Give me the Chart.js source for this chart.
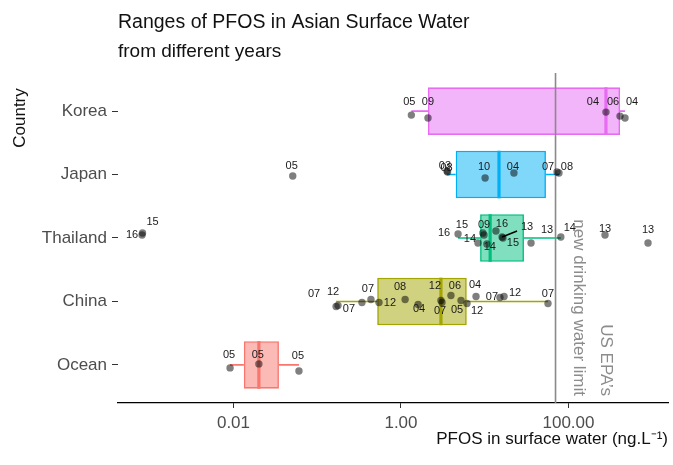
<!DOCTYPE html>
<html>
<head>
<meta charset="utf-8">
<script src="https://cdn.jsdelivr.net/npm/chart.js@4.4.1/dist/chart.umd.min.js"></script>
<style>
  html, body { margin: 0; padding: 0; background: #ffffff; }
  #wrap { width: 673px; height: 465px; }
</style>
</head>
<body>
<div id="wrap"><canvas id="pfos" width="673" height="465"></canvas></div>
<script>
// ---- Data -------------------------------------------------------------
// Rows from bottom (1) to top (5)
const countries = ['Ocean', 'China', 'Thailand', 'Japan', 'Korea'];
const xTickValues = [0.01, 1, 100];
const epaLimit = 70; // ng/L

// Box summaries per country (ng/L), same order as countries
const whiskerLow  = [0.0091, 0.168, 4.8, 3.54, 1.33];
const quartile1   = [0.0133, 0.52, 8.8, 4.5, 2.1];
const medians     = [0.0201, 3.0, 11.6, 14.8, 280];
const quartile3   = [0.0349, 6.1, 29.4, 53.8, 412];
const whiskerHigh = [0.0605, 57, 81, 77, 473];

// Individual measurements (ng/L), sampling year and vertical jitter (row units)
const oceanPfos   = [0.0091, 0.0201, 0.0605];
const oceanYears  = ['05', '05', '05'];
const oceanJitter = [-0.047, 0.016, -0.095];

const chinaPfos   = [0.168, 0.177, 0.342, 0.438, 0.546, 1.12, 1.6, 3.0, 3.09, 3.95, 5.21, 6.14, 7.87, 15.2, 17.0, 56.9];
const chinaYears  = ['12', '07', '07', '07', '12', '08', '04', '12', '07', '06', '05', '12', '04', '07', '12', '07'];
const chinaJitter = [-0.079, -0.063, -0.016, 0.032, -0.016, 0.032, -0.047, 0.016, -0.016, 0.095, 0.016, -0.032, 0.079, 0.063, 0.079, -0.032];

const thaiPfos    = [0.00081, 0.00082, 4.8, 9.5, 8.3, 9.8, 10.6, 13.6, 16.1, 16.5, 35.7, 81, 273, 890];
const thaiYears   = ['16', '15', '16', '15', '14', '09', '14', '16', '13', '15', '13', '14', '13', '13'];
const thaiJitter  = [0.047, 0.079, 0.063, 0.079, -0.079, 0.047, -0.095, 0.11, 0.016, 0, -0.079, 0.016, 0.047, -0.079];

const japanPfos   = [0.051, 3.54, 3.6, 10.1, 22.3, 73, 77];
const japanYears  = ['05', '03', '08', '10', '04', '07', '08'];
const japanJitter = [-0.024, 0.055, 0.04, -0.055, 0.024, 0.04, 0.024];

const koreaPfos   = [1.33, 2.1, 280, 412, 473];
const koreaYears  = ['05', '09', '04', '06', '04'];
const koreaJitter = [-0.063, -0.11, -0.016, -0.079, -0.11];

// ---- Label placement (pixel shifts from each point; third item draws a leader) ----
const oceanLabelShift = [[-1, -13], [-1, -9], [-1, -15]];
const chinaLabelShift = [[-3, -15], [-24, -11], [-13, 6], [-3, -10], [11, 0], [-5, -12], [1, 5], [-6, -14],
                         [-2, 8], [4, -9], [-4, 10], [10, 7], [-1, -11], [-8, 0], [11, -3], [0, -10]];
const thaiLabelShift  = [[-10, 0], [10, -11], [-14, -1], [-21, -8], [-8, -4], [0, -10], [3, 3], [6, -7],
                         [25, -10, true], [10, 5], [16, -13], [9, -9], [0, -6], [0, -13]];
const japanLabelShift = [[-1, -10], [-2, -5], [-1, -4], [-1, -11], [-1, -6], [-9, -5], [8, -6]];
const koreaLabelShift = [[-2, -13], [0, -16], [-13, -10], [-7, -14], [7, -16]];

// ---- Styling ----------------------------------------------------------
const FONT = '"Liberation Sans", Arial, Helvetica, sans-serif';
const boxColors = ['#F8766D', '#A3A500', '#00BF7D', '#00B0F6', '#E76BF3'];
const boxFills  = ['rgba(248,118,109,0.5)', 'rgba(163,165,0,0.5)', 'rgba(0,191,125,0.5)',
                   'rgba(0,176,246,0.5)', 'rgba(231,107,243,0.5)'];
const HALF_BOX = 0.375; // half box height in row units

Chart.defaults.font.family = FONT;

const samples = [
  { pfos: oceanPfos, years: oceanYears, jitter: oceanJitter, shift: oceanLabelShift },
  { pfos: chinaPfos, years: chinaYears, jitter: chinaJitter, shift: chinaLabelShift },
  { pfos: thaiPfos,  years: thaiYears,  jitter: thaiJitter,  shift: thaiLabelShift },
  { pfos: japanPfos, years: japanYears, jitter: japanJitter, shift: japanLabelShift },
  { pfos: koreaPfos, years: koreaYears, jitter: koreaJitter, shift: koreaLabelShift }
];

const datasets = [];

// Whiskers: lower and upper segments, broken across the box
countries.forEach((c, i) => {
  const row = i + 1;
  datasets.push({
    type: 'line',
    label: c + ' whiskers',
    data: [
      { x: whiskerLow[i], y: row }, { x: quartile1[i], y: row },
      { x: NaN, y: NaN },
      { x: quartile3[i], y: row }, { x: whiskerHigh[i], y: row }
    ],
    borderColor: boxColors[i],
    borderWidth: 1.6,
    pointRadius: 0,
    spanGaps: false,
    order: 5
  });
});

// Boxes: interquartile range as floating horizontal bars
datasets.push({
  type: 'bar',
  label: 'IQR',
  indexAxis: 'y',
  data: countries.map((c, i) => ({ x: [quartile1[i], quartile3[i]], y: i + 1 })),
  backgroundColor: boxFills,
  borderColor: boxColors,
  borderWidth: 1.6,
  borderSkipped: false,
  barPercentage: 0.75,
  categoryPercentage: 1,
  grouped: false,
  order: 4
});

// Medians
countries.forEach((c, i) => {
  const row = i + 1;
  datasets.push({
    type: 'line',
    label: c + ' median',
    data: [{ x: medians[i], y: row - HALF_BOX }, { x: medians[i], y: row + HALF_BOX }],
    borderColor: boxColors[i],
    borderWidth: 3.2,
    pointRadius: 0,
    order: 3
  });
});

// US EPA limit
datasets.push({
  type: 'line',
  label: 'US EPA limit',
  data: [{ x: epaLimit, y: 0.4 }, { x: epaLimit, y: 5.6 }],
  borderColor: '#8a8a8a',
  borderWidth: 1.6,
  pointRadius: 0,
  order: 2
});

// Measurements
samples.forEach((s, i) => {
  const row = i + 1;
  datasets.push({
    type: 'scatter',
    label: countries[i] + ' samples',
    data: s.pfos.map((v, k) => ({ x: v, y: row + s.jitter[k] })),
    backgroundColor: 'rgba(0,0,0,0.5)',
    borderWidth: 0,
    pointRadius: 3.7,
    pointHoverRadius: 3.7,
    yearLabels: s.years,
    labelShift: s.shift,
    order: 1
  });
});

// ---- Plugins ----------------------------------------------------------
const yearLabelPlugin = {
  id: 'yearLabels',
  afterDatasetsDraw(chart) {
    const ctx = chart.ctx;
    ctx.save();
    ctx.font = '11px ' + FONT;
    ctx.textAlign = 'center';
    ctx.textBaseline = 'middle';
    chart.data.datasets.forEach((ds, di) => {
      if (!ds.yearLabels) return;
      const meta = chart.getDatasetMeta(di);
      meta.data.forEach((pt, k) => {
        const sh = ds.labelShift[k] || [0, -10];
        const lx = pt.x + sh[0], ly = pt.y + sh[1];
        if (sh[2]) {
          ctx.strokeStyle = '#000';
          ctx.lineWidth = 1.5;
          ctx.beginPath();
          ctx.moveTo(pt.x, pt.y);
          ctx.lineTo(lx - 10, ly + 4);
          ctx.stroke();
        }
        ctx.fillStyle = '#1a1a1a';
        ctx.fillText(ds.yearLabels[k], lx, ly);
      });
    });
    ctx.restore();
  }
};

const textPlugin = {
  id: 'chartTexts',
  afterDraw(chart) {
    const ctx = chart.ctx;
    const area = chart.chartArea;
    const xs = chart.scales.x;
    ctx.save();
    // Title and subtitle
    ctx.fillStyle = '#111';
    ctx.textAlign = 'left';
    ctx.textBaseline = 'alphabetic';
    ctx.font = '19.5px ' + FONT;
    ctx.fillText('Ranges of PFOS in Asian Surface Water', area.left, 28);
    ctx.font = '19px ' + FONT;
    ctx.fillText('from different years', area.left, 57);

    // Axis titles
    ctx.font = '17px ' + FONT;
    ctx.textAlign = 'right';
    ctx.textBaseline = 'middle';
    ctx.fillText('PFOS in surface water (ng.L\u207B\u00B9)', area.right, 439);
    ctx.save();
    ctx.translate(20, 118);
    ctx.rotate(-Math.PI / 2);
    ctx.textAlign = 'center';
    ctx.fillText('Country', 0, 0);
    ctx.restore();

    // Annotation beside the limit line
    const lx = xs.getPixelForValue(epaLimit);
    ctx.fillStyle = '#8c8c8c';
    ctx.font = '17px ' + FONT;
    ctx.textBaseline = 'middle';
    [['US EPA\u2019s', 50], ['new drinking water limit', 23]].forEach(([t, dx]) => {
      ctx.save();
      ctx.translate(lx + dx, area.bottom - 7);
      ctx.rotate(Math.PI / 2);
      ctx.textAlign = 'right';
      ctx.fillText(t, 0, 0);
      ctx.restore();
    });
    ctx.restore();
  }
};

// ---- Chart ------------------------------------------------------------
new Chart(document.getElementById('pfos'), {
  type: 'scatter',
  data: { datasets },
  options: {
    responsive: false,
    animation: false,
    devicePixelRatio: 1,
    layout: { padding: { top: 73, right: 5, bottom: 0, left: 0 } },
    plugins: { legend: { display: false }, tooltip: { enabled: false }, title: { display: false } },
    scales: {
      x: {
        type: 'logarithmic',
        position: 'bottom',
        min: 0.000418,
        max: 1542,
        beginAtZero: false,
        offset: false,
        afterBuildTicks: s => { s.ticks = xTickValues.map(v => ({ value: v })); },
        afterFit: s => { s.height = 62; },
        ticks: {
          callback: v => Number(v).toFixed(2),
          color: '#4d4d4d',
          font: { size: 17 },
          padding: 5,
          maxRotation: 0,
          autoSkip: false
        },
        grid: { drawOnChartArea: false, drawTicks: true, tickLength: 5, color: '#333', offset: false },
        border: { display: true, color: '#000', width: 1.2 }
      },
      y: {
        type: 'linear',
        min: 0.4,
        max: 5.6,
        offset: false,
        afterBuildTicks: s => { s.ticks = countries.map((c, i) => ({ value: i + 1 })); },
        afterFit: s => { s.width = 118; },
        ticks: {
          callback: v => countries[Math.round(v) - 1],
          color: '#4d4d4d',
          font: { size: 17 },
          padding: 5
        },
        grid: { drawOnChartArea: false, drawTicks: true, tickLength: 6, color: '#333', offset: false },
        border: { display: false }
      }
    }
  },
  plugins: [yearLabelPlugin, textPlugin]
});
</script>
</body>
</html>
